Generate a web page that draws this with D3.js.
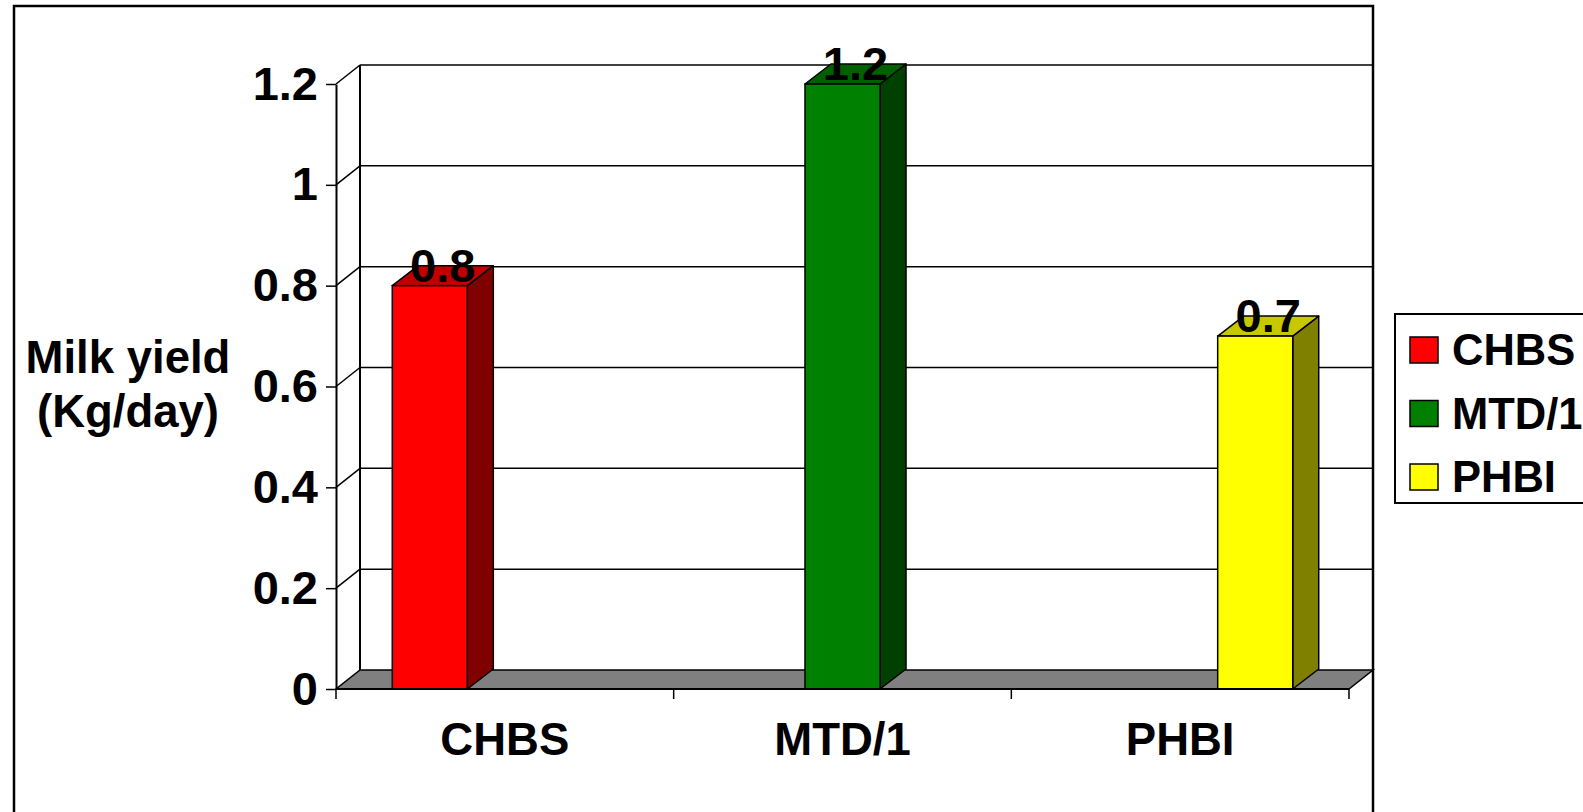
<!DOCTYPE html>
<html>
<head>
<meta charset="utf-8">
<script src="https://cdn.jsdelivr.net/npm/d3@7"></script>
<style>
  html, body { margin: 0; padding: 0; background: #fff; }
  svg { display: block; }
  text { font-family: "Liberation Sans", Arial, sans-serif; font-weight: bold; fill: #000; }
</style>
</head>
<body>
<svg id="chart" width="1583" height="812"></svg>
<script>
// Milk yield per breed, one bar per breed in its own category slot
const categories = ["CHBS", "MTD/1", "PHBI"];
const series = ["CHBS", "MTD/1", "PHBI"];
const values = [0.8, 1.2, 0.7];
const yTicks = [0, 0.2, 0.4, 0.6, 0.8, 1, 1.2];
const yTickLabels = ["0", "0.2", "0.4", "0.6", "0.8", "1", "1.2"];
const frontColors = ["#FF0000", "#008000", "#FFFF00"];
const sideColors = ["#800000", "#004000", "#808000"];
const topColors = ["#C00000", "#006000", "#C8C800"];
const yTitle = ["Milk yield", "(Kg/day)"];

const svg = d3.select("#chart");

// plot frame (front plane) and 3D depth offsets
const plot = { left: 336, right: 1349, top: 84, bottom: 689 };
const wall = { dx: 24, dy: -19 };
const barDepth = { dx: 26, dy: -20 };

const y = d3.scaleLinear().domain([0, 1.2]).range([plot.bottom, plot.top]);
const x0 = d3.scaleBand().domain(categories).range([plot.left, plot.right]).padding(0);
const x1 = d3.scaleBand().domain(series).range([0, x0.bandwidth()])
  .paddingInner(0).paddingOuter(0.75);

// outer chart border
svg.append("rect")
  .attr("x", 14).attr("y", 6).attr("width", 1359).attr("height", 900)
  .attr("fill", "none").attr("stroke", "#000").attr("stroke-width", 2.5);

// back wall gridlines
const backLeft = plot.left + wall.dx, backRight = plot.right + wall.dx;
svg.append("g").selectAll("line").data(yTicks.filter(d => d > 0)).join("line")
  .attr("x1", backLeft).attr("x2", backRight)
  .attr("y1", d => y(d) + wall.dy).attr("y2", d => y(d) + wall.dy)
  .attr("stroke", "#000").attr("stroke-width", 1.5);

// side wall gridlines (diagonals from axis to back wall)
svg.append("g").selectAll("line").data(yTicks.filter(d => d > 0)).join("line")
  .attr("x1", plot.left).attr("x2", backLeft)
  .attr("y1", d => y(d)).attr("y2", d => y(d) + wall.dy)
  .attr("stroke", "#000").attr("stroke-width", 1.5);

// back wall vertical edges
svg.append("line")
  .attr("x1", backLeft).attr("x2", backLeft)
  .attr("y1", y(1.2) + wall.dy).attr("y2", y(0) + wall.dy)
  .attr("stroke", "#000").attr("stroke-width", 2);
svg.append("line")
  .attr("x1", backRight).attr("x2", backRight)
  .attr("y1", y(1.2) + wall.dy).attr("y2", y(0) + wall.dy)
  .attr("stroke", "#000").attr("stroke-width", 2);

// floor
svg.append("path")
  .attr("d", `M${plot.left},${y(0)} L${plot.right},${y(0)} L${backRight},${y(0) + wall.dy} L${backLeft},${y(0) + wall.dy} Z`)
  .attr("fill", "#808080").attr("stroke", "#000").attr("stroke-width", 1.5);

// bars
const bars = series.map((s, i) => ({
  s, v: values[i], x: x0(categories[i]) + x1(s), w: x1.bandwidth(), i
}));
const bg = svg.append("g").selectAll("g").data(bars).join("g");
bg.append("path") // side face
  .attr("d", d => {
    const xr = d.x + d.w, yt = y(d.v), yb = y(0);
    return `M${xr},${yb} L${xr},${yt} L${xr + barDepth.dx},${yt + barDepth.dy} L${xr + barDepth.dx},${yb + barDepth.dy} Z`;
  })
  .attr("fill", d => sideColors[d.i]).attr("stroke", "#000").attr("stroke-width", 1.5)
  .attr("stroke-linejoin", "round");
bg.append("path") // top face
  .attr("d", d => {
    const xl = d.x, xr = d.x + d.w, yt = y(d.v);
    return `M${xl},${yt} L${xr},${yt} L${xr + barDepth.dx},${yt + barDepth.dy} L${xl + barDepth.dx},${yt + barDepth.dy} Z`;
  })
  .attr("fill", d => topColors[d.i]).attr("stroke", "#000").attr("stroke-width", 1.5)
  .attr("stroke-linejoin", "round");
bg.append("rect") // front face
  .attr("x", d => d.x).attr("y", d => y(d.v))
  .attr("width", d => d.w).attr("height", d => y(0) - y(d.v))
  .attr("fill", d => frontColors[d.i]).attr("stroke", "#000").attr("stroke-width", 1.5);

// value labels
bg.append("text")
  .attr("x", d => d.x + d.w / 2 + barDepth.dx / 2)
  .attr("y", d => y(d.v) - 4)
  .attr("text-anchor", "middle")
  .attr("font-size", 47)
  .text(d => String(d.v));

// y axis
const yAxis = d3.axisLeft(y).tickValues(yTicks)
  .tickFormat((d, i) => yTickLabels[i]).tickSize(10).tickSizeOuter(0).tickPadding(8);
const ya = svg.append("g").attr("transform", `translate(${plot.left},0)`).call(yAxis);
ya.select(".domain").attr("stroke", "#000").attr("stroke-width", 2);
ya.selectAll(".tick line").attr("stroke", "#000").attr("stroke-width", 1.5);
ya.selectAll(".tick text")
  .attr("font-family", "'Liberation Sans', Arial, sans-serif")
  .attr("font-weight", "bold").attr("font-size", 47).attr("fill", "#000");

// x axis: line along floor front with ticks on category boundaries
const xa = svg.append("g");
xa.append("line")
  .attr("x1", plot.left).attr("x2", plot.right).attr("y1", y(0)).attr("y2", y(0))
  .attr("stroke", "#000").attr("stroke-width", 2);
const bounds = categories.map(c => x0(c)).concat([x0(categories[categories.length - 1]) + x0.bandwidth()]);
xa.selectAll("line.tk").data(bounds).join("line").attr("class", "tk")
  .attr("x1", d => d).attr("x2", d => d).attr("y1", y(0)).attr("y2", y(0) + 10)
  .attr("stroke", "#000").attr("stroke-width", 1.5);
xa.selectAll("text").data(categories).join("text")
  .attr("x", d => x0(d) + x0.bandwidth() / 2)
  .attr("y", 755)
  .attr("text-anchor", "middle").attr("font-size", 45.5)
  .text(d => d);

// y axis title, two lines centred on the plot height
svg.append("g").selectAll("text").data(yTitle).join("text")
  .attr("x", 128).attr("y", (d, i) => 373 + i * 54)
  .attr("text-anchor", "middle").attr("font-size", 45.5)
  .text(d => d);

// legend
const lg = svg.append("g");
lg.append("rect")
  .attr("x", 1395).attr("y", 314).attr("width", 300).attr("height", 189)
  .attr("fill", "#fff").attr("stroke", "#000").attr("stroke-width", 2);
const items = lg.selectAll("g").data(series).join("g")
  .attr("transform", (d, i) => `translate(1410,${337 + i * 63.5})`);
items.append("rect")
  .attr("width", 28).attr("height", 26)
  .attr("fill", (d, i) => frontColors[i]).attr("stroke", "#000").attr("stroke-width", 1.5);
items.append("text")
  .attr("x", 42).attr("y", 28).attr("font-size", 43.5)
  .text(d => d);
</script>
</body>
</html>
